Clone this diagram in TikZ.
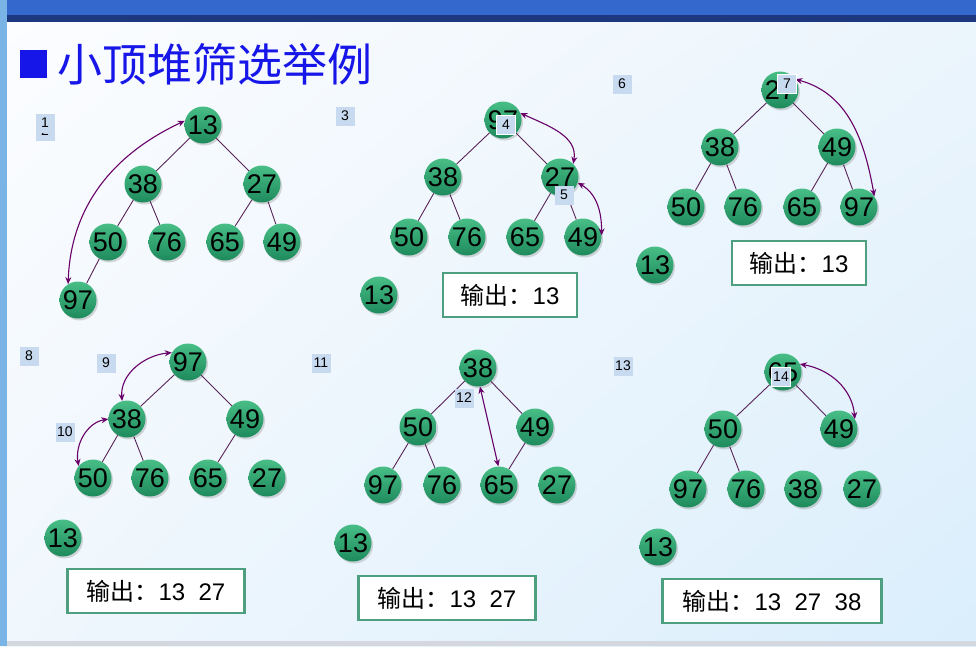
\documentclass[tikz,border=0pt]{standalone}
\usepackage{fontspec}
\setmainfont{Liberation Sans}
\newfontfamily\cjk{Noto Sans CJK SC}
\usetikzlibrary{arrows.meta,shadows,shadings}
\definecolor{balltop}{RGB}{72,190,134}
\definecolor{ballbot}{RGB}{30,138,92}
\definecolor{linkpurple}{RGB}{88,36,88}
\definecolor{swappurple}{RGB}{105,0,105}
\definecolor{boxgreen}{RGB}{78,158,128}
\definecolor{tagblue}{RGB}{200,218,240}
\definecolor{titleblue}{RGB}{22,22,232}
\definecolor{barblue}{RGB}{52,104,204}
\definecolor{barnavy}{RGB}{30,56,128}
\definecolor{sideblue}{RGB}{122,180,230}
\definecolor{bottomgray}{RGB}{212,216,222}
\definecolor{bgtl}{RGB}{252,253,255}
\definecolor{bgtr}{RGB}{236,245,252}
\definecolor{bgbl}{RGB}{240,247,253}
\definecolor{bgbr}{RGB}{218,238,252}
\begin{document}
\begin{tikzpicture}[x = 1pt, y = -1pt,
		ball/.style = {circle, minimum size = 37pt, inner sep = 0pt, top color = balltop, bottom color = ballbot, drop shadow = {shadow xshift = 1.5pt, shadow yshift = -2pt, opacity = 0.3}, font = \fontsize{27}{27}\selectfont},
		link/.style = {draw = linkpurple, line width = 0.9pt},
		swap/.style = {draw = swappurple, line width = 1.1pt, {Stealth[length = 7pt, width = 6pt]}-{Stealth[length = 7pt, width = 6pt]}},
		outbox/.style = {draw = boxgreen, line width = 2.5pt, fill = white, minimum height = 44pt, font = \fontsize{24}{24}\selectfont},
		tag/.style = {fill = tagblue, minimum size = 19pt, inner sep = 1pt, font = \fontsize{14}{14}\selectfont}]
		\useasboundingbox (0,0) rectangle (976,646);
		\shade [upper left = bgtl, upper right = bgtr, lower left = bgbl, lower right = bgbr] (0,0) rectangle (976,646);
		\fill [barblue] (0,0) rectangle (976,15);
		\fill [barnavy] (0,15) rectangle (976,22);
		\fill [sideblue] (0,0) rectangle (7,646);
		\fill [bottomgray] (7,641) rectangle (976,646);
		\fill [titleblue] (20,50) rectangle (47,78);
		\node [anchor = west, inner sep = 0pt, text = titleblue, font = \cjk\fontsize{45}{45}\selectfont] (title) at (57,64) {小顶堆筛选举例};
		% tree 1
		\node [ball] (a13) at (203,125) {13};
		\node [ball] (a38) at (143,184) {38};
		\node [ball] (a27) at (262,184) {27};
		\node [ball] (a50) at (108,242) {50};
		\node [ball] (a76) at (167,242) {76};
		\node [ball] (a65) at (225,242) {65};
		\node [ball] (a49) at (282,242) {49};
		\node [ball] (a97) at (78,300) {97};
		\draw [link] (a13) -- (a38);
		\draw [link] (a13) -- (a27);
		\draw [link] (a38) -- (a50);
		\draw [link] (a38) -- (a76);
		\draw [link] (a27) -- (a65);
		\draw [link] (a27) -- (a49);
		\draw [link] (a50) -- (a97);
		\draw [swap] (a13.167) to [out = 205, in = 88] (a97.122);
		% tree 2
		\node [ball] (b97) at (503,120) {97};
		\node [ball] (b38) at (443,177) {38};
		\node [ball] (b27) at (560,177) {27};
		\node [ball] (b50) at (409,237) {50};
		\node [ball] (b76) at (467,237) {76};
		\node [ball] (b65) at (525,237) {65};
		\node [ball] (b49) at (583,237) {49};
		\node [ball] (b13) at (379,295) {13};
		\draw [link] (b97) -- (b38);
		\draw [link] (b97) -- (b27);
		\draw [link] (b38) -- (b50);
		\draw [link] (b38) -- (b76);
		\draw [link] (b27) -- (b65);
		\draw [link] (b27) -- (b49);
		\draw [swap] (b97.22) to [out = -25, in = 80] (b27.45);
		\draw [swap] (b27.-18) to [out = -30, in = 90] (b49.5);
		\node [outbox, minimum width = 134pt] (bout) at (510,295) {{\cjk 输出：}13};
		% tree 3
		\node [ball] (c27) at (780,90) {27};
		\node [ball] (c38) at (720,147) {38};
		\node [ball] (c49) at (837,147) {49};
		\node [ball] (c50) at (686,207) {50};
		\node [ball] (c76) at (743,207) {76};
		\node [ball] (c65) at (802,207) {65};
		\node [ball] (c97) at (859,207) {97};
		\node [ball] (c13) at (655,265) {13};
		\draw [link] (c27) -- (c38);
		\draw [link] (c27) -- (c49);
		\draw [link] (c38) -- (c50);
		\draw [link] (c38) -- (c76);
		\draw [link] (c49) -- (c65);
		\draw [link] (c49) -- (c97);
		\draw [swap] (c27.35) to [out = -15, in = 100] (c97.35);
		\node [outbox, minimum width = 134pt] (cout) at (799,263) {{\cjk 输出：}13};
		% tree 4
		\node [ball] (d97) at (188,362) {97};
		\node [ball] (d38) at (127,419) {38};
		\node [ball] (d49) at (245,419) {49};
		\node [ball] (d50) at (93,478) {50};
		\node [ball] (d76) at (150,478) {76};
		\node [ball] (d65) at (208,478) {65};
		\node [ball] (d27) at (267,478) {27};
		\node [ball] (d13) at (63,538) {13};
		\draw [link] (d97) -- (d38);
		\draw [link] (d97) -- (d49);
		\draw [link] (d38) -- (d50);
		\draw [link] (d38) -- (d76);
		\draw [link] (d49) -- (d65);
		\draw [swap] (d97.150) to [out = 185, in = 95] (d38.105);
		\draw [swap] (d38.180) to [out = 190, in = 100] (d50.140);
		\node [outbox, minimum width = 177pt] (dout) at (156,591) {{\cjk 输出：}13~~27};
		% tree 5
		\node [ball] (e38) at (478,368) {38};
		\node [ball] (e50) at (418,427) {50};
		\node [ball] (e49) at (535,427) {49};
		\node [ball] (e97) at (383,485) {97};
		\node [ball] (e76) at (442,485) {76};
		\node [ball] (e65) at (499,485) {65};
		\node [ball] (e27) at (557,485) {27};
		\node [ball] (e13) at (353,543) {13};
		\draw [link] (e38) -- (e50);
		\draw [link] (e38) -- (e49);
		\draw [link] (e50) -- (e97);
		\draw [link] (e50) -- (e76);
		\draw [link] (e49) -- (e65);
		\draw [swap] (e38.-84) -- (e65.92);
		\node [outbox, minimum width = 177pt] (eout) at (447,598) {{\cjk 输出：}13~~27};
		% tree 6
		\node [ball] (f65) at (783,372) {65};
		\node [ball] (f50) at (723,429) {50};
		\node [ball] (f49) at (839,429) {49};
		\node [ball] (f97) at (688,489) {97};
		\node [ball] (f76) at (746,489) {76};
		\node [ball] (f38) at (803,489) {38};
		\node [ball] (f27) at (862,489) {27};
		\node [ball] (f13) at (658,547) {13};
		\draw [link] (f65) -- (f50);
		\draw [link] (f65) -- (f49);
		\draw [link] (f50) -- (f97);
		\draw [link] (f50) -- (f76);
		\draw [swap] (f65.25) to [out = -10, in = 95] (f49.32);
		\node [outbox, minimum width = 219pt] (fout) at (772,601) {{\cjk 输出：}13~~27~~38};
		% step tags
		\node [tag] (tag2) at (45,131) {2};
		\node [tag] (tag1) at (45,123) {1};
		\node [tag] (tag3) at (345,116) {3};
		\node [tag, draw = white] (tag4) at (506,125) {4};
		\node [tag] (tag5) at (564,195) {5};
		\node [tag] (tag6) at (622,84) {6};
		\node [tag, draw = white] (tag7) at (787,84) {7};
		\node [tag] (tag8) at (29,356) {8};
		\node [tag] (tag9) at (106,363) {9};
		\node [tag] (tag10) at (65,432) {10};
		\node [tag] (tag11) at (321,363) {11};
		\node [tag] (tag12) at (464,398) {12};
		\node [tag] (tag13) at (623,366) {13};
		\node [tag, draw = white] (tag14) at (781,377) {14};
	\end{tikzpicture}
\end{document}
